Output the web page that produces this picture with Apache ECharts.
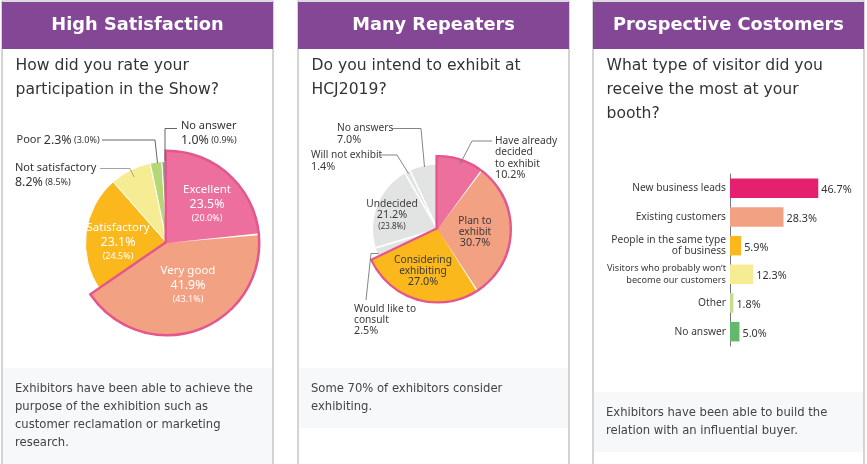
<!DOCTYPE html>
<html>
<head>
<meta charset="utf-8">
<style>
  html, body { margin: 0; padding: 0; background: #fff; }
  #main { width: 867px; height: 464px; }
</style>
</head>
<body>
<div id="main"></div>
<script src="https://cdn.jsdelivr.net/npm/echarts@6/dist/echarts.min.js"></script>
<script>
// pie 1: participation rating
var rateNames = ['Excellent', 'Very good', 'Satisfactory', 'Not satisfactory', 'Poor', 'No answer'];
var rateValues = [23.5, 41.9, 23.1, 8.2, 2.3, 1.0];
var ratePrev = [20.0, 43.1, 24.5, 8.5, 3.0, 0.9];

// pie 2: intention to exhibit
var intendNames = ['Have already\ndecided\nto exhibit', 'Plan to\nexhibit', 'Considering\nexhibiting', 'Would like to\nconsult', 'Undecided', 'Will not exhibit', 'No answers'];
var intendValues = [10.2, 30.7, 27.0, 2.5, 21.2, 1.4, 7.0];
var intendPrev = [null, null, null, null, 23.8, null, null];

// bars: type of visitor
var visitorNames = ['New business leads', 'Existing customers', 'People in the same type\nof business', 'Visitors who probably won\u02bct\nbecome our customers', 'Other', 'No answer'];
var visitorValues = [46.7, 28.3, 5.9, 12.3, 1.8, 5.0];

var rateColors = ['#ec6f9e', '#f3a183', '#fab81c', '#f5ec93', '#b5d877', '#66b98a'];
var intendColors = ['#ec6f9e', '#f3a183', '#fab81c', '#e2e3e3', '#e2e3e3', '#e2e3e3', '#e2e3e3'];
var visitorColors = ['#e5206e', '#f3a183', '#fab81c', '#f5ec93', '#c5dc8c', '#62b96e'];

var FONT = '"DejaVu Sans", sans-serif';
var LABEL_FONT = '"Noto Sans", sans-serif';
var PINK = '#e4568c';

var cards = [
  { x: 2, title: 'High Satisfaction', question: ['How did you rate your', 'participation in the Show?'], foot: ['Exhibitors have been able to achieve the', 'purpose of the exhibition such as', 'customer reclamation or marketing', 'research.'], footTop: 368, footBottom: 464, footText: 388.5 },
  { x: 298, title: 'Many Repeaters', question: ['Do you intend to exhibit at', 'HCJ2019?'], foot: ['Some 70% of exhibitors consider', 'exhibiting.'], footTop: 368, footBottom: 428, footText: 388.5 },
  { x: 593, title: 'Prospective Costomers', question: ['What type of visitor did you', 'receive the most at your', 'booth?'], foot: ['Exhibitors have been able to build the', 'relation with an influential buyer.'], footTop: 392, footBottom: 452, footText: 412.5 }
];

var graphics = [];
cards.forEach(function (c) {
  var w = 271;
  graphics.push({ type: 'rect', z: -10, shape: { x: c.x, y: 1, width: w, height: 470 }, style: { fill: '#fff', stroke: '#b4b7ba', lineWidth: 1.2 } });
  graphics.push({ type: 'rect', z: -9, shape: { x: c.x + 1, y: c.footTop, width: w - 2, height: c.footBottom - c.footTop }, style: { fill: '#f6f8fa' } });
  graphics.push({ type: 'rect', z: -9, shape: { x: c.x, y: 2, width: w, height: 47 }, style: { fill: '#834795' } });
  graphics.push({ type: 'text', z: 5, style: { x: c.x + w / 2, y: 25, text: c.title, fill: '#fff', font: 'bold 17.8px ' + FONT, align: 'center', verticalAlign: 'middle' } });
  c.question.forEach(function (t, i) {
    graphics.push({ type: 'text', z: 5, style: { x: c.x + 13.5, y: 66 + i * 24, text: t, fill: '#333', font: '15.6px ' + FONT, verticalAlign: 'middle' } });
  });
  c.foot.forEach(function (t, i) {
    graphics.push({ type: 'text', z: 5, style: { x: c.x + 13, y: c.footText + i * 18, text: t, fill: '#444', font: '11.6px ' + FONT, verticalAlign: 'middle' } });
  });
});

// leader lines from the outer labels to their slices
var leaders = [
  { color: '#555', pts: [[102, 140], [155, 140], [157.5, 163]] },
  { color: '#999', pts: [[100, 168.5], [130, 168.5], [134, 177]] },
  { color: '#555', pts: [[177, 128.5], [165, 128.5], [165, 161]] },
  { color: '#777', pts: [[392, 128.5], [421, 128.5], [424.5, 167]] },
  { color: '#777', pts: [[380, 155], [397, 155], [408.5, 173.5]] },
  { color: '#777', pts: [[492, 141], [472, 141], [460, 164]] },
  { color: '#777', pts: [[378.5, 253.5], [371, 253.5], [366, 300]] }
];
leaders.forEach(function (l) {
  graphics.push({ type: 'polyline', z: 20, silent: true, shape: { points: l.pts }, style: { fill: 'none', stroke: l.color, lineWidth: 0.9 } });
});

function sum(list) {
  return list.reduce(function (a, b) { return a + b; }, 0);
}

// text of a pie label: name, share, last year's share
function labelText(name, value, prev, oneLine, brk) {
  var s = name.split('\n').map(function (t) { return '{n|' + t + '}'; }).join('\n');
  s += (oneLine ? '{n| }' : '\n') + '{p|' + value.toFixed(1) + '%}';
  if (prev !== null) s += (brk ? '\n' : '{q| }') + '{q|(' + prev.toFixed(1) + '%)}';
  return s;
}

var blank = { color: 'transparent', borderWidth: 0, borderColor: 'transparent' };

// one ring of slices; the part of the circle it does not cover is a blank slice
function pieLayer(cfg) {
  var data = [];
  if (cfg.gapBefore) data.push({ value: cfg.gapBefore, name: 'blank', itemStyle: blank, label: { show: false } });
  var first = data.length;
  cfg.idx.forEach(function (i) {
    data.push({ value: cfg.values[i], name: cfg.names[i], itemStyle: { color: cfg.colors[i] } });
  });
  if (cfg.gapAfter) data.push({ value: cfg.gapAfter, name: 'blank', itemStyle: blank, label: { show: false } });
  return {
    type: 'pie', silent: true, animation: false, z: cfg.z,
    center: cfg.center, radius: [0, cfg.r], startAngle: 90, clockwise: true,
    avoidLabelOverlap: false, labelLine: { show: false },
    itemStyle: cfg.border,
    label: {
      show: true, position: 'inside', rich: cfg.rich,
      formatter: function (p) {
        var i = cfg.idx[p.dataIndex - first];
        if (i === undefined) return '';
        var st = cfg.layout[i];
        return labelText(cfg.names[i], cfg.values[i], cfg.prev[i], st.oneLine, st.brk);
      }
    },
    labelLayout: function (p) {
      var st = cfg.layout[cfg.idx[p.dataIndex - first]];
      if (!st) return {};
      return { x: st.x, y: st.y, align: st.align, verticalAlign: 'middle' };
    },
    data: data
  };
}

// pink outline around the highlighted slices; their fill hides the inner half of the stroke
function outline(center, r, hi, lo, width) {
  return {
    type: 'pie', silent: true, animation: false, z: 3, center: center, radius: [0, r],
    startAngle: 90, label: { show: false }, labelLine: { show: false },
    data: [
      { value: sum(hi), itemStyle: { color: PINK, borderColor: PINK, borderWidth: width, borderJoin: 'miter', borderMiterLimit: 20 } },
      { value: sum(lo), itemStyle: blank }
    ]
  };
}

// thin white line between two slices that share the pink outline
function separator(center, r, angle) {
  var w = 0.3;
  return {
    type: 'pie', silent: true, animation: false, z: 6, center: center, radius: [0, r],
    startAngle: 90 - angle * 3.6 + w * 1.8, label: { show: false }, labelLine: { show: false },
    data: [{ value: w, itemStyle: { color: '#fff' } }, { value: 100 - w, itemStyle: { color: 'transparent' } }]
  };
}

function richFor(color, nSize, pSize, qSize, lh) {
  return {
    n: { fontFamily: LABEL_FONT, fontSize: nSize, color: color, lineHeight: lh },
    p: { fontFamily: LABEL_FONT, fontSize: pSize, color: color, lineHeight: lh },
    q: { fontFamily: LABEL_FONT, fontSize: qSize, color: color, lineHeight: lh }
  };
}

var whiteBorder = { borderColor: '#fff', borderWidth: 1 };
var noBorder = { borderWidth: 0 };

var rateLayout = [
  { x: 207, y: 204, align: 'center', brk: true },
  { x: 188, y: 285, align: 'center', brk: true },
  { x: 118, y: 242, align: 'center', brk: true },
  { x: 15, y: 175.5, align: 'left' },
  { x: 16.5, y: 140, align: 'left', oneLine: true },
  { x: 181, y: 133, align: 'left' }
];
var intendLayout = [
  { x: 495, y: 158, align: 'left' },
  { x: 475, y: 232, align: 'center' },
  { x: 423, y: 271, align: 'center' },
  { x: 354, y: 320, align: 'left' },
  { x: 392, y: 215, align: 'center', brk: true },
  { x: 311, y: 161, align: 'left' },
  { x: 337, y: 134, align: 'left' }
];

var rateInner = richFor('#fff', 11.5, 12.4, 9, 14);
var rateDark = richFor('#333', 11, 12.4, 9, 14.5);
var intendDark = richFor('#3a3a3a', 10.2, 10.8, 8, 11.3);

var c1 = [167, 243], c2 = [437.7, 229.3];
var rateHi = rateValues.slice(0, 2), rateLo = rateValues.slice(2);
var intendHi = intendValues.slice(0, 3), intendLo = intendValues.slice(3);

var series = [
  pieLayer({ center: c1, r: 81.5, z: 2, names: rateNames, values: rateValues, prev: ratePrev, colors: rateColors, idx: [2], gapBefore: sum(rateHi), gapAfter: sum(rateValues.slice(3)), border: whiteBorder, rich: rateInner, layout: rateLayout }),
  pieLayer({ center: c1, r: 81.5, z: 2, names: rateNames, values: rateValues, prev: ratePrev, colors: rateColors, idx: [3, 4, 5], gapBefore: sum(rateHi) + rateLo[0], border: whiteBorder, rich: rateDark, layout: rateLayout }),
  outline(c1, 91, rateHi, rateLo, 5),
  pieLayer({ center: c1, r: 91, z: 4, names: rateNames, values: rateValues, prev: ratePrev, colors: rateColors, idx: [0, 1], gapAfter: sum(rateLo), border: noBorder, rich: rateInner, layout: rateLayout }),
  separator(c1, 91, rateValues[0]),
  pieLayer({ center: c2, r: 65.5, z: 2, names: intendNames, values: intendValues, prev: intendPrev, colors: intendColors, idx: [3, 4, 5, 6], gapBefore: sum(intendHi), border: { borderColor: '#fff', borderWidth: 1.5 }, rich: intendDark, layout: intendLayout }),
  outline(c2, 72, intendHi, intendLo, 4.6),
  pieLayer({ center: c2, r: 72, z: 4, names: intendNames, values: intendValues, prev: intendPrev, colors: intendColors, idx: [0, 1, 2], gapAfter: sum(intendLo), border: noBorder, rich: intendDark, layout: intendLayout }),
  separator(c2, 72, intendValues[0]),
  separator(c2, 72, intendValues[0] + intendValues[1]),
  {
    type: 'bar', silent: true, animation: false, barWidth: 19.5,
    data: visitorValues.map(function (v, i) { return { value: v, itemStyle: { color: visitorColors[i] } }; }),
    label: {
      show: true, position: 'right', distance: 3, offset: [0, 2], color: '#333', fontFamily: LABEL_FONT, fontSize: 10.8,
      formatter: function (p) { return p.value.toFixed(1) + '%'; }
    }
  }
];

var option = {
  animation: false,
  backgroundColor: '#fff',
  graphic: graphics,
  grid: { left: 730, top: 174, width: 94.5, height: 172, containLabel: false },
  xAxis: { type: 'value', min: 0, max: 50, show: false },
  yAxis: {
    type: 'category', inverse: true, data: visitorNames,
    axisLine: { show: true, lineStyle: { color: '#777', width: 1 } },
    axisTick: { show: false },
    axisLabel: {
      color: '#3a3a3a', fontFamily: LABEL_FONT, fontSize: 10.2, lineHeight: 11.5, margin: 4, align: 'right',
      rich: { s: { fontFamily: LABEL_FONT, fontSize: 9.2, lineHeight: 11.5, color: '#3a3a3a' } },
      formatter: function (v) {
        // the longest label is set narrower in the reference
        if (v.indexOf('Visitors') === 0) return v.split('\n').map(function (t) { return '{s|' + t + '}'; }).join('\n');
        return v;
      }
    }
  },
  series: series
};

var myChart = echarts.init(document.getElementById('main'), null, { renderer: 'canvas' });
myChart.setOption(option);
</script>
</body>
</html>
